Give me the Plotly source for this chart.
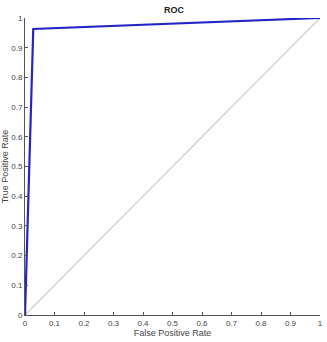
import plotly.graph_objects as go

fpr = [0.0, 0.028, 1.0]
tpr = [0.0, 0.963, 1.0]
diag_x = [0.0, 1.0]
diag_y = [0.0, 1.0]
ticks = [0, 0.1, 0.2, 0.3, 0.4, 0.5, 0.6, 0.7, 0.8, 0.9, 1]
tick_labels = ["0", "0.1", "0.2", "0.3", "0.4", "0.5", "0.6", "0.7", "0.8", "0.9", "1"]

fig = go.Figure()
fig.add_trace(go.Scatter(x=diag_x, y=diag_y, mode="lines",
                         line=dict(color="#cfcfcf", width=1.3), showlegend=False))
fig.add_trace(go.Scatter(x=fpr, y=tpr, mode="lines",
                         line=dict(color="#2424c4", width=2.2), showlegend=False))

axis_common = dict(range=[0, 1], tickvals=ticks, ticktext=tick_labels,
                   ticks="inside", ticklen=3, tickcolor="#555", tickwidth=1,
                   showline=True, linecolor="#555", linewidth=1,
                   showgrid=False, zeroline=False,
                   tickfont=dict(family="Liberation Sans, Arial", size=8, color="#444"))

fig.update_layout(
    width=327, height=342,
    margin=dict(l=25, r=4, t=18, b=27),
    paper_bgcolor="white", plot_bgcolor="white",
    title=dict(text="<b>ROC</b>", x=0.532, xanchor="center", y=0.972, yanchor="middle",
               font=dict(family="Liberation Sans, Arial", size=9, color="#222")),
    xaxis=dict(**axis_common,
               title=dict(text="False Positive Rate", standoff=1,
                          font=dict(family="Liberation Sans, Arial", size=9, color="#444"))),
    yaxis=dict(**axis_common,
               title=dict(text="True Positive Rate", standoff=1,
                          font=dict(family="Liberation Sans, Arial", size=9, color="#444"))),
)
fig.write_html("out.html")
